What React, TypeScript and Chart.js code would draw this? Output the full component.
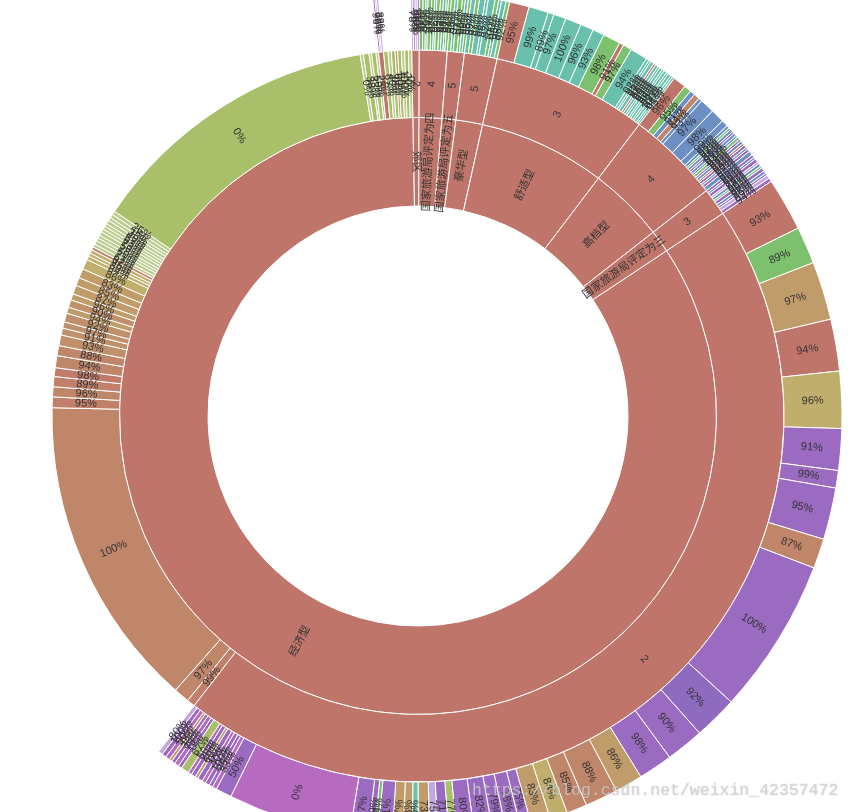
import { useEffect, useRef } from 'react';
import { Chart, registerables } from 'chart.js';

Chart.register(...registerables);

type Leaf = [string, number];
type Node = [string, number | Leaf[]];

// ---------- Level 1 (inner ring): hotel type, clockwise from just left of 12 o'clock
const TYPE_NAMES = ['郊区', '国家旅游局评定为四', '国家旅游局评定为五', '豪华型', '舒适型', '高档型', '国家旅游局评定为三', '经济型'];

// ---------- Level 3 (outer ring): one list per level-2 node that is split further
const L3_JIAO_2: Leaf[] = [['78%', 0.3], ['96%', 0.3], ['100%', 0.3], ['50%', 0.3]];
const L3_FOUR_STAR_4: Leaf[] = [['97%', 0.5], ['98%', 0.4], ['95%', 0.3], ['100%', 0.5], ['97%', 0.4], ['96%', 0.3], ['99%', 0.5], ['93%', 0.4], ['98%', 0.4], ['97%', 0.3], ['94%', 0.4]];
const L3_FIVE_STAR_5: Leaf[] = [['98%', 0.5], ['97%', 0.4], ['100%', 0.6], ['96%', 0.4], ['99%', 0.4], ['95%', 0.4]];
const L3_LUXURY_5: Leaf[] = [['99%', 0.6], ['97%', 0.5], ['98%', 0.8], ['96%', 0.4], ['97%', 0.9], ['100%', 0.5], ['95%', 0.4], ['98%', 0.6], ['92%', 0.5]];
const L3_COMFORT_3: Leaf[] = [['95%', 2.7], ['99%', 2.7], ['89%', 0.8], ['97%', 1.7], ['100%', 2.2], ['96%', 1.8], ['93%', 1.6], ['98%', 2.4], ['91%', 0.6], ['97%', 1.2], ['94%', 2.4], ['92%', 0.4], ['95%', 0.3], ['97%', 0.5], ['88%', 0.3], ['96%', 0.4], ['99%', 0.3], ['90%', 0.4], ['94%', 0.3], ['98%', 0.4], ['93%', 0.3], ['100%', 0.4], ['91%', 0.3], ['95%', 0.3]];
const L3_UPSCALE_4: Leaf[] = [['96%', 1.8], ['95%', 1.0], ['91%', 0.7], ['84%', 0.8], ['93%', 0.5], ['97%', 2.0], ['98%', 1.9], ['99%', 0.9], ['95%', 0.4], ['92%', 0.3], ['97%', 0.4], ['89%', 0.3], ['96%', 0.4], ['100%', 0.3], ['94%', 0.4], ['98%', 0.3], ['91%', 0.4], ['93%', 0.3], ['95%', 0.4], ['90%', 0.3], ['97%', 0.4], ['99%', 0.6]];
const L3_THREE_STAR_3: Leaf[] = [['90%', 0.4], ['86%', 0.3], ['93%', 0.5], ['75%', 0.3], ['88%', 0.4], ['96%', 0.3], ['80%', 0.5], ['92%', 0.4], ['85%', 0.3], ['89%', 0.5], ['94%', 0.5]];
const L3_ECONOMY_2: Leaf[] = [['93%', 7.3], ['89%', 5.1], ['97%', 8.0], ['94%', 7.1], ['96%', 7.8], ['91%', 5.7], ['99%', 2.4], ['95%', 7.1], ['87%', 4.1], ['100%', 21.4], ['92%', 6.0], ['90%', 5.2], ['98%', 4.7], ['86%', 3.8], ['88%', 4.5], ['85%', 2.8], ['84%', 2.4], ['83%', 2.7], ['76%', 1.5], ['78%', 2.0], ['79%', 1.8], ['82%', 2.5], ['80%', 2.4], ['77%', 1.1], ['71%', 1.5], ['75%', 1.1], ['73%', 1.6], ['70%', 0.8], ['63%', 1.2], ['57%', 1.5], ['31%', 2.0], ['29%', 0.5], ['39%', 0.8], ['67%', 2.5], ['0%', 16.9], ['50%', 2.2], ['33%', 0.6], ['25%', 0.5], ['100%', 0.6], ['40%', 0.5], ['0%', 0.7], ['60%', 0.4], ['20%', 0.6], ['50%', 0.5], ['67%', 1.1], ['0%', 0.5], ['75%', 0.6], ['33%', 0.5], ['0%', 0.4], ['50%', 0.6], ['100%', 0.6], ['80%', 0.6]];
const L3_ECONOMY_2B: Leaf[] = [['96%', 0.3], ['78%', 0.2], ['88%', 0.3]];

// ---------- Level 2 (middle ring): children of each hotel type (number = leaf value)
const L2_JIAO: Node[] = [['2', L3_JIAO_2]];
const L2_FOUR_STAR: Node[] = [['4', L3_FOUR_STAR_4]];
const L2_FIVE_STAR: Node[] = [['5', L3_FIVE_STAR_5]];
const L2_LUXURY: Node[] = [['5', L3_LUXURY_5]];
const L2_COMFORT: Node[] = [['3', L3_COMFORT_3]];
const L2_UPSCALE: Node[] = [['4', L3_UPSCALE_4]];
const L2_THREE_STAR: Node[] = [['3', L3_THREE_STAR_3]];
const L2_ECONOMY: Node[] = [
  ['2', L3_ECONOMY_2], ['99%', 1.3], ['97%', 2.5], ['100%', 49.8],
  ['95%', 1.7], ['96%', 1.6], ['89%', 1.6], ['98%', 1.4], ['94%', 1.9], ['88%', 1.6], ['93%', 1.7], ['91%', 1.1], ['97%', 1.0], ['92%', 1.4], ['94%', 1.0], ['90%', 1.2], ['96%', 1.0], ['87%', 1.4], ['85%', 1.3], ['83%', 1.5], ['86%', 1.6],
  ['84%', 0.6], ['80%', 0.5], ['75%', 0.6], ['82%', 0.5], ['67%', 0.5], ['71%', 0.6], ['60%', 0.5], ['78%', 0.5], ['50%', 0.6], ['73%', 0.5], ['63%', 0.5], ['57%', 0.5], ['40%', 0.6], ['33%', 0.5], ['0%', 0.6], ['25%', 0.6],
  ['0%', 46.9],
  ['0%', 0.5], ['38%', 0.9], ['33%', 0.4], ['50%', 0.7], ['25%', 0.4], ['2', L3_ECONOMY_2B], ['67%', 0.7], ['40%', 0.5], ['0%', 0.6], ['60%', 0.4], ['50%', 0.6], ['100%', 0.5], ['20%', 0.6], ['0%', 0.5],
];
const TYPE_CHILDREN: Node[][] = [L2_JIAO, L2_FOUR_STAR, L2_FIVE_STAR, L2_LUXURY, L2_COMFORT, L2_UPSCALE, L2_THREE_STAR, L2_ECONOMY];

// ---------- Styles (colour keys, kept apart from the values)
const PALETTE: Record<string, string> = {
  S: '#c0756a', N: '#c0806a', M: '#c07b6b', R: '#c0866a', Q: '#c0906b', A: '#c09c6a', O: '#bfae6c',
  G: '#7dc06d', T: '#68c0ad', E: '#a9bf6a', L: '#bccb8e', P: '#9b6bc1', D: '#8e6bbf', K: '#b76bc0',
  B: '#6c8fc4', V: '#c3a8df',
};
const L2_COLOR_KEYS = [
  'S', 'S', 'S', 'S', 'S', 'S', 'S',
  'S N R R N R N M R R Q Q Q Q A Q A A A A O O O O R L L L L L L L L L L L L E L E L E L S E L E A E L E L',
];
const L3_COLOR_KEYS = new Map<Leaf[], string>([
  [L3_JIAO_2, 'V K V K'],
  [L3_FOUR_STAR_4, 'G G T G G T G G T G G'],
  [L3_FIVE_STAR_5, 'G T G G T G'],
  [L3_LUXURY_5, 'T G T T T G T T G'],
  [L3_COMFORT_3, 'S T T T T T T G S G T T T T S T T T T T T T T T'],
  [L3_UPSCALE_4, 'S G B R B B B B B G B P B B G P B R P B P B'],
  [L3_THREE_STAR_3, 'P B P V B G P B P V P'],
  [L3_ECONOMY_2, 'S G A S O P P P R P D P P A R R O A P P P P P E P V A T A A P G P P K P K P P K P A P K E P K P A K P V'],
  [L3_ECONOMY_2B, 'K P V'],
]);

const CENTER_X = 418;
const CENTER_Y = 416;
const OUTER_RADIUS = 424;
const HOLE_RADIUS = 210;
const RING_WEIGHTS = [58, 67.5, 88.5]; // outer, middle, inner ring thickness
const CANVAS_SIZE = 860;
const LABEL_FONT = '11px "Liberation Sans", "Noto Sans CJK SC", sans-serif';

type Ring = { values: number[]; labels: (string | null)[]; colors: string[]; borders: number[] };

function buildRings(): Ring[] {
  const mk = (): Ring => ({ values: [], labels: [], colors: [], borders: [] });
  const r1 = mk(), r2 = mk(), r3 = mk();
  const push = (r: Ring, label: string | null, v: number, color: string, bw: number) => {
    r.labels.push(label); r.values.push(v); r.colors.push(color); r.borders.push(bw);
  };
  TYPE_NAMES.forEach((typeName, ti) => {
    const nodes = TYPE_CHILDREN[ti];
    const keys = L2_COLOR_KEYS[ti].split(' ');
    let typeTotal = 0;
    nodes.forEach(([name, v], ni) => {
      if (Array.isArray(v)) {
        const kk = (L3_COLOR_KEYS.get(v) || '').split(' ');
        let sum = 0;
        v.forEach(([kn, kv], ki) => {
          push(r3, kn, kv, PALETTE[kk[ki]] || PALETTE.P, 1);
          sum += kv;
        });
        push(r2, name, sum, PALETTE[keys[ni]] || PALETTE.S, 1);
        typeTotal += sum;
      } else {
        push(r2, name, v, PALETTE[keys[ni]] || PALETTE.R, 1);
        push(r3, null, v, 'rgba(0,0,0,0)', 0);
        typeTotal += v;
      }
    });
    push(r1, typeName, typeTotal, PALETTE.S, 1);
  });
  return [r3, r2, r1];
}

const sliceLabelPlugin = {
  id: 'sliceLabels',
  afterDatasetsDraw(chart: any) {
    const ctx: CanvasRenderingContext2D = chart.ctx;
    chart.data.datasets.forEach((ds: any, di: number) => {
      const meta = chart.getDatasetMeta(di);
      const texts: (string | null)[] = ds.sliceLabels || [];
      meta.data.forEach((arc: any, i: number) => {
        const t = texts[i];
        if (!t) return;
        const p = arc.getProps(['x', 'y', 'startAngle', 'endAngle', 'innerRadius', 'outerRadius'], true);
        const a = (p.startAngle + p.endAngle) / 2;
        const r = (p.innerRadius + p.outerRadius) / 2;
        const px = p.x + Math.cos(a) * r;
        const py = p.y + Math.sin(a) * r;
        let rot = a;
        if (Math.cos(a) < 0) rot += Math.PI;
        ctx.save();
        ctx.translate(px, py);
        ctx.rotate(rot);
        ctx.font = LABEL_FONT;
        ctx.fillStyle = '#333';
        ctx.textAlign = 'center';
        ctx.textBaseline = 'middle';
        ctx.fillText(t, 0, 0);
        ctx.restore();
      });
    });
  },
};

export default function App() {
  const canvasRef = useRef<HTMLCanvasElement | null>(null);

  useEffect(() => {
    const canvas = canvasRef.current;
    if (!canvas) return;
    const rings = buildRings();
    const chart = new Chart(canvas, {
      type: 'doughnut',
      data: {
        labels: rings[0].labels.map((l) => l ?? ''),
        datasets: rings.map((r, i) => ({
          data: r.values,
          backgroundColor: r.colors,
          borderColor: '#ffffff',
          borderWidth: r.borders,
          hoverOffset: 0,
          weight: RING_WEIGHTS[i],
          sliceLabels: r.labels,
        })) as any,
      },
      options: {
        responsive: false,
        animation: false,
        events: [],
        rotation: -1,
        radius: OUTER_RADIUS,
        cutout: `${(HOLE_RADIUS / OUTER_RADIUS) * 100}%`,
        layout: { padding: 0 },
        plugins: { legend: { display: false }, tooltip: { enabled: false } },
      } as any,
      plugins: [sliceLabelPlugin],
    });
    return () => chart.destroy();
  }, []);

  return (
    <div style={{ position: 'fixed', left: 0, top: 0, width: 850, height: 812, overflow: 'hidden', background: '#ffffff' }}>
      <canvas
        ref={canvasRef}
        width={CANVAS_SIZE}
        height={CANVAS_SIZE}
        style={{ position: 'absolute', left: CENTER_X - CANVAS_SIZE / 2, top: CENTER_Y - CANVAS_SIZE / 2, width: CANVAS_SIZE, height: CANVAS_SIZE }}
      />
      <div
        style={{
          position: 'absolute', left: 472, top: 781, whiteSpace: 'nowrap',
          font: '16.5px "Liberation Mono", monospace', lineHeight: '20px',
          color: 'rgba(255,255,255,0.55)', textShadow: '0 0 1px rgba(110,110,110,0.7)',
        }}
      >
        https://blog.csdn.net/weixin_42357472
      </div>
    </div>
  );
}
